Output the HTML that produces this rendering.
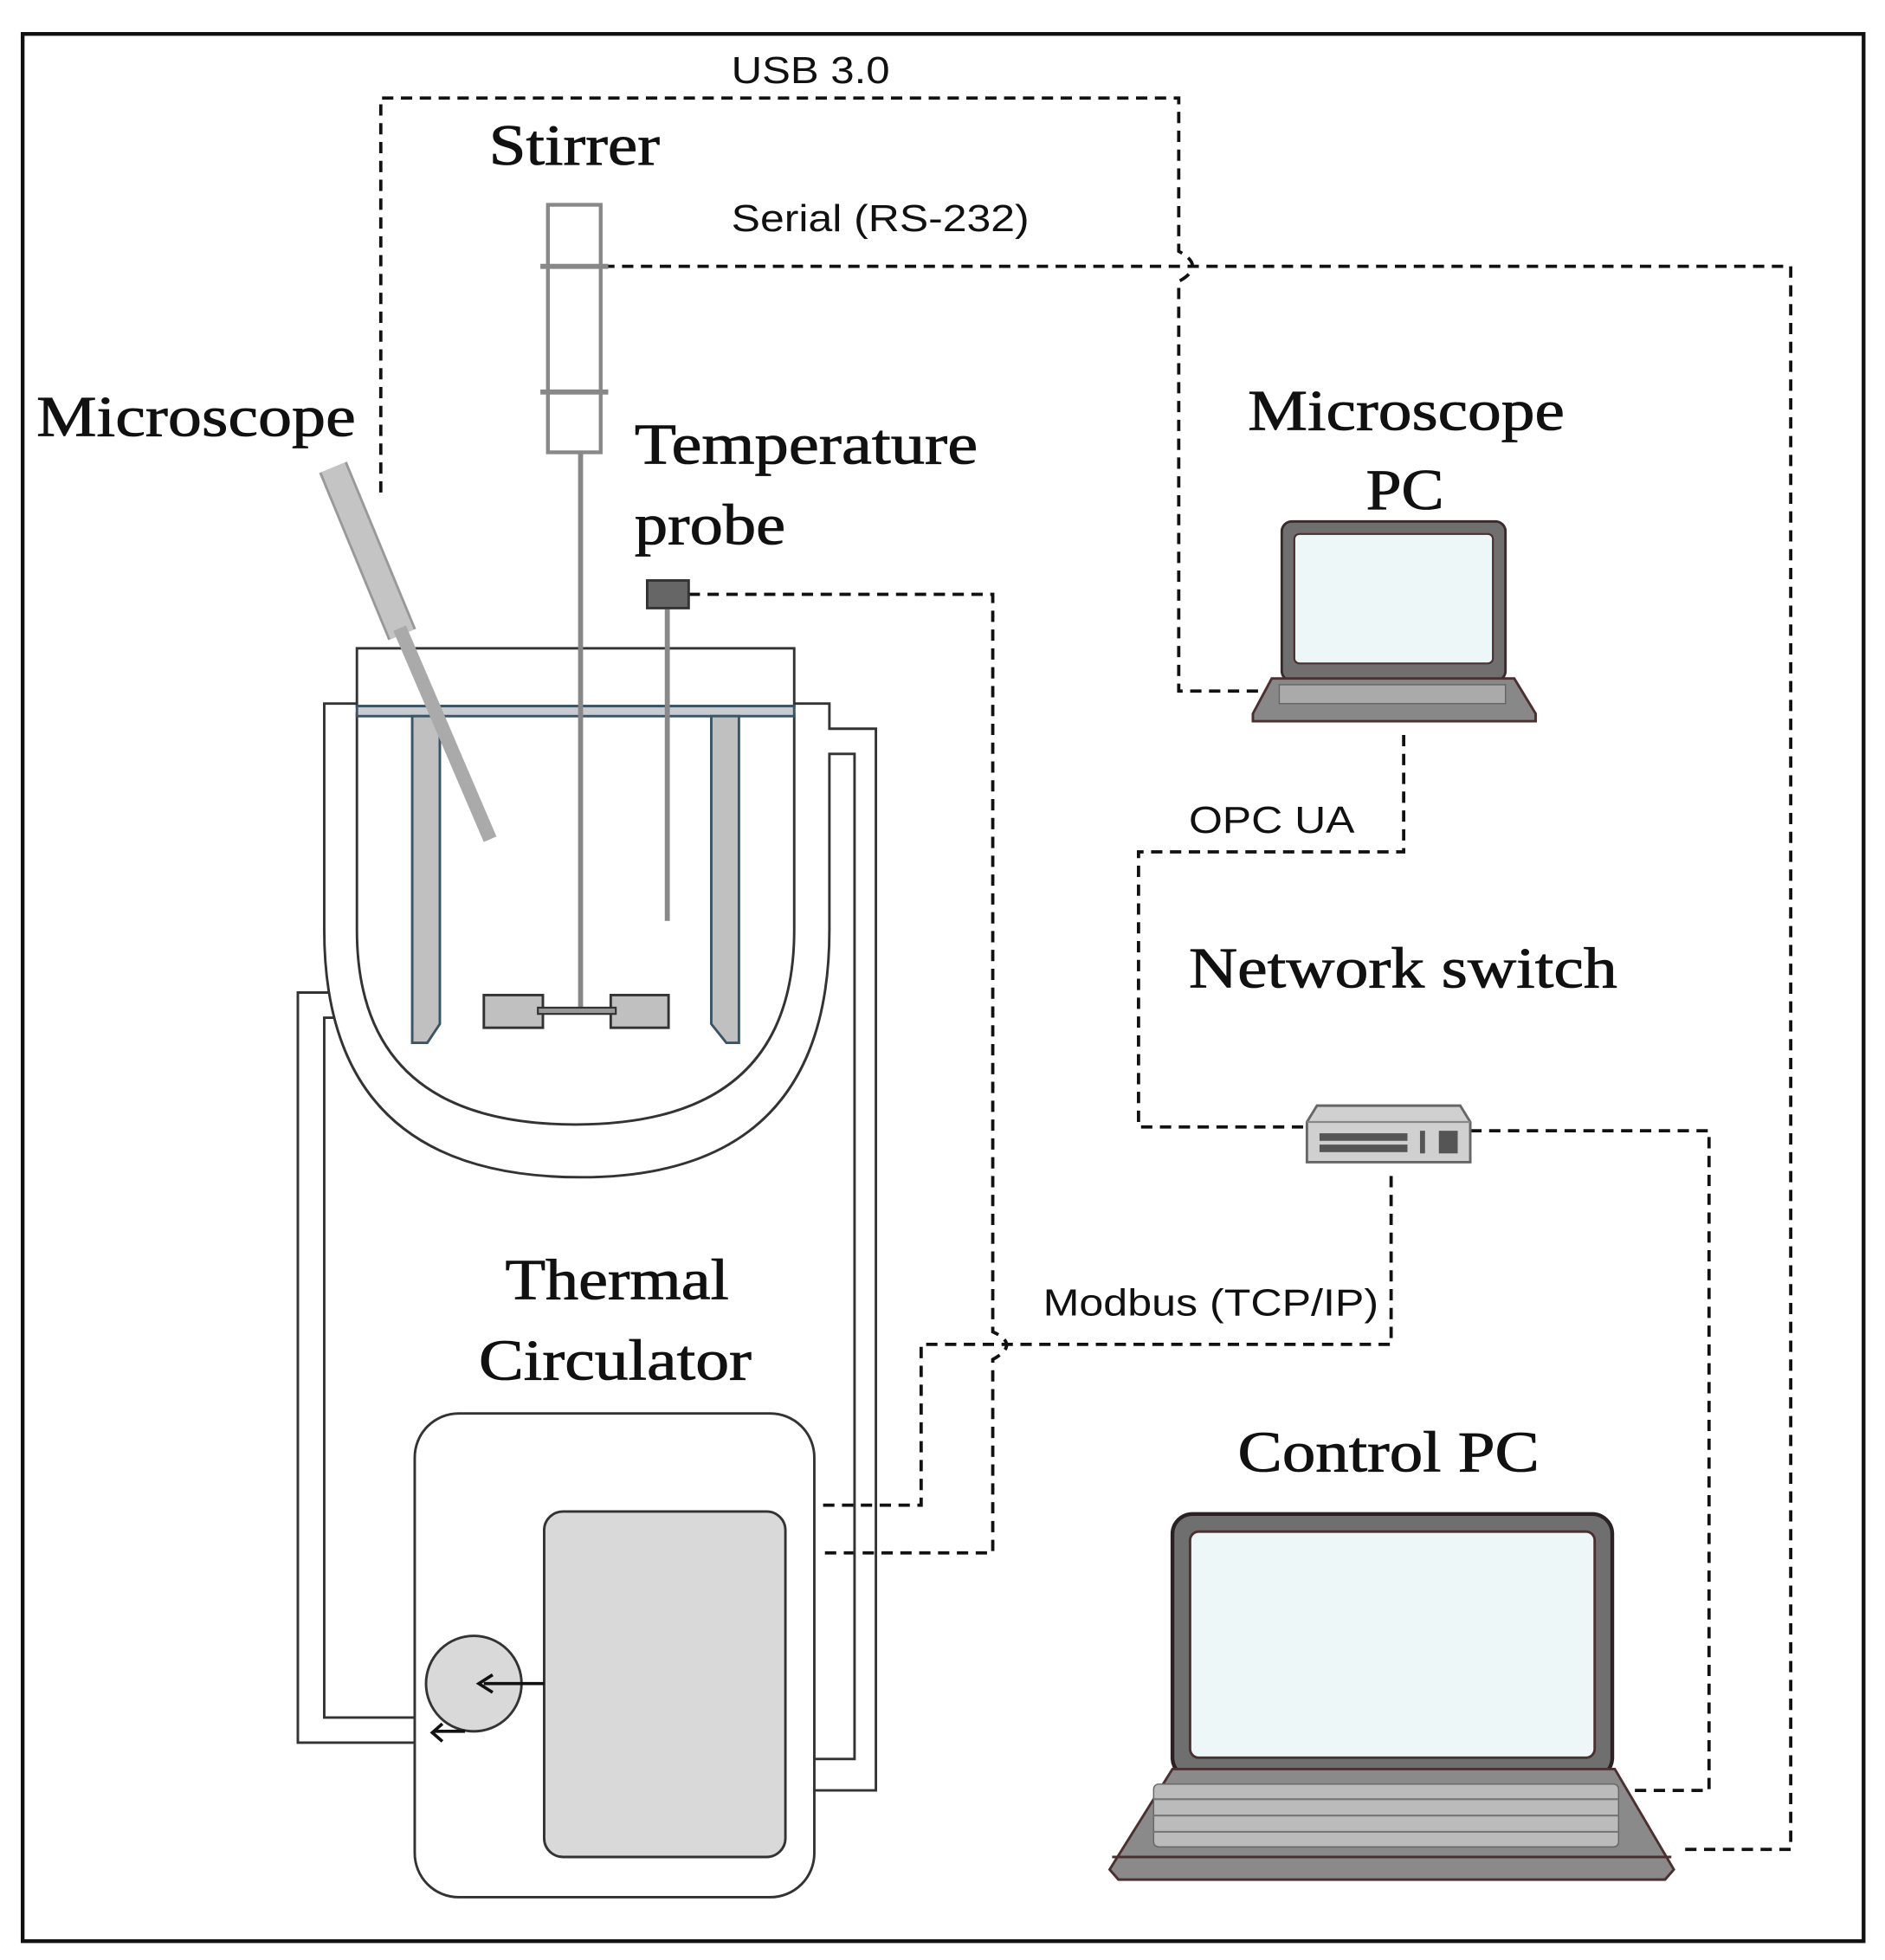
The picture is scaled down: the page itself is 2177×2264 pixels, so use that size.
<!DOCTYPE html>
<html><head><meta charset="utf-8"><style>html,body{margin:0;padding:0;background:#fff}svg{display:block}</style></head>
<body>
<svg width="2177" height="2264" viewBox="0 0 1500 1560" xmlns="http://www.w3.org/2000/svg">
<rect x="0" y="0" width="1500" height="1560" fill="#fff"/>
<rect x="18" y="27" width="1465" height="1518" fill="none" stroke="#111" stroke-width="3"/>

<g fill="none" stroke="#111" stroke-width="2.6" stroke-dasharray="9,6">
  <path d="M303,392 V78 H938 V200 Q960,212 938,224 V550 H1015"/>
  <path d="M480,212 H1425 V1472 H1335"/>
  <path d="M548,473 H790 V1060 Q812,1070 790,1082 V1236 H655"/>
  <path d="M655,1198 H733 V1070 H1107 V935"/>
  <path d="M1117,585 V678 H906 V897 H1040"/>
  <path d="M1170,900 H1360 V1425 H1295"/>
</g>

<g fill="none" stroke="#333" stroke-width="2">
  <path d="M284,560 H258 V740 Q258,937 462,937 Q660,937 660,740 V600 H680 V1400 H648"/>
  <path d="M632,560 H660 V580 H697 V1425 H648"/>
  <path d="M262,790 H237 V1387 H330"/>
  <path d="M266,810 H258 V1367 H330"/>
  <path d="M284,567 V740 Q284,895 458,895 Q632,895 632,740 V567"/>
  <rect x="284" y="516" width="348" height="46"/>
</g>
<rect x="284" y="562" width="348" height="8" fill="#c8ccd0" stroke="#3b5566" stroke-width="2"/>
<path d="M328,570 H350 V815 L340,830 H328 Z" fill="#c0c0c0" stroke="#3b5566" stroke-width="2"/>
<path d="M566,570 H588 V830 H578 L566,815 Z" fill="#c0c0c0" stroke="#3b5566" stroke-width="2"/>
<line x1="265" y1="372" x2="320" y2="505" stroke="#999" stroke-width="24"/>
<line x1="265" y1="372" x2="320" y2="505" stroke="#c4c4c4" stroke-width="20"/>
<line x1="318" y1="500" x2="390" y2="668" stroke="#aaa" stroke-width="11"/>
<rect x="436" y="163" width="42" height="197" fill="#fff" stroke="#888" stroke-width="3"/>
<line x1="430" y1="212" x2="484" y2="212" stroke="#888" stroke-width="4"/>
<line x1="430" y1="312" x2="484" y2="312" stroke="#888" stroke-width="4"/>
<line x1="462" y1="360" x2="462" y2="805" stroke="#888" stroke-width="4"/>
<rect x="385" y="792" width="47" height="26" fill="#c0c0c0" stroke="#333" stroke-width="2"/>
<rect x="486" y="792" width="46" height="26" fill="#c0c0c0" stroke="#333" stroke-width="2"/>
<rect x="428" y="802" width="62" height="5" fill="#999" stroke="#333" stroke-width="1.5"/>
<line x1="531" y1="485" x2="531" y2="733" stroke="#888" stroke-width="4"/>
<rect x="515" y="462" width="33" height="22" fill="#666" stroke="#333" stroke-width="2"/>

<rect x="330" y="1125" width="318" height="385" rx="35" fill="#fff" stroke="#333" stroke-width="2"/>
<rect x="433" y="1203" width="192" height="275" rx="15" fill="#d9d9d9" stroke="#333" stroke-width="2"/>
<circle cx="377" cy="1340" r="38" fill="#d9d9d9" stroke="#333" stroke-width="2"/>
<line x1="433" y1="1340" x2="385" y2="1340" stroke="#111" stroke-width="2.5"/>
<path d="M392,1333 L381,1340 L392,1347" fill="none" stroke="#111" stroke-width="2.5"/>
<path d="M370,1378 H345 M352,1372 L344,1379 L352,1386" fill="none" stroke="#111" stroke-width="2.5"/>

<rect x="1020" y="415" width="178" height="127" rx="8" fill="#6f6f6f" stroke="#3a2a2a" stroke-width="2"/>
<rect x="1030" y="425" width="158" height="103" rx="4" fill="#eef7f8" stroke="#4a3030" stroke-width="1.5"/>
<path d="M1012,540 H1205 L1222,568 V574 H997 V568 Z" fill="#888" stroke="#4a3030" stroke-width="2"/>
<rect x="1018" y="545" width="180" height="15" fill="#aaa" stroke="#666" stroke-width="1"/>

<path d="M1048,880 H1162 L1170,893 V925 H1040 V893 Z" fill="#d0d0d0" stroke="#666" stroke-width="2"/>
<line x1="1040" y1="893" x2="1170" y2="893" stroke="#888" stroke-width="1.5"/>
<g fill="#555"><rect x="1050" y="902" width="70" height="6"/><rect x="1050" y="911" width="70" height="6"/><rect x="1130" y="900" width="4" height="18"/><rect x="1145" y="900" width="15" height="18"/></g>

<rect x="933" y="1205" width="350" height="210" rx="16" fill="#6f6f6f" stroke="#2a2222" stroke-width="3"/>
<rect x="947" y="1219" width="322" height="180" rx="7" fill="#eef7f8" stroke="#4a3030" stroke-width="2"/>
<path d="M933,1408 H1285 L1332,1488 L1325,1496 H890 L883,1488 Z" fill="#8a8a8a" stroke="#4a3030" stroke-width="2"/>
<rect x="918" y="1420" width="370" height="50" rx="4" fill="#bbb" stroke="#666" stroke-width="1"/>
<g stroke="#777" stroke-width="1.5">
<line x1="918" y1="1432" x2="1288" y2="1432"/><line x1="918" y1="1445" x2="1288" y2="1445"/><line x1="918" y1="1458" x2="1288" y2="1458"/>
</g>
<line x1="885" y1="1478" x2="1330" y2="1478" stroke="#4a3030" stroke-width="2"/>

<g font-family="Liberation Serif, serif" fill="#111" stroke="#111" stroke-width="0.6" font-size="46" lengthAdjust="spacingAndGlyphs">
<text x="389" y="131" textLength="136" lengthAdjust="spacingAndGlyphs">Stirrer</text>
<text x="29" y="347" textLength="254" lengthAdjust="spacingAndGlyphs">Microscope</text>
<text x="505" y="369" textLength="273" lengthAdjust="spacingAndGlyphs">Temperature</text>
<text x="505" y="433" textLength="120" lengthAdjust="spacingAndGlyphs">probe</text>
<text x="993" y="342" textLength="252" lengthAdjust="spacingAndGlyphs">Microscope</text>
<text x="1087" y="405" textLength="62" lengthAdjust="spacingAndGlyphs">PC</text>
<text x="946" y="786" textLength="341" lengthAdjust="spacingAndGlyphs">Network switch</text>
<text x="402" y="1034" textLength="178" lengthAdjust="spacingAndGlyphs">Thermal</text>
<text x="381" y="1098" textLength="217" lengthAdjust="spacingAndGlyphs">Circulator</text>
<text x="985" y="1171" textLength="240" lengthAdjust="spacingAndGlyphs">Control PC</text>
</g>
<g font-family="Liberation Sans, sans-serif" fill="#111" font-size="30">
<text x="582" y="66" textLength="126" lengthAdjust="spacingAndGlyphs">USB 3.0</text>
<text x="582" y="184" textLength="237" lengthAdjust="spacingAndGlyphs">Serial (RS-232)</text>
<text x="946" y="663" textLength="132" lengthAdjust="spacingAndGlyphs">OPC UA</text>
<text x="830" y="1047" textLength="267" lengthAdjust="spacingAndGlyphs">Modbus (TCP/IP)</text>
</g>
</svg>
</body></html>
